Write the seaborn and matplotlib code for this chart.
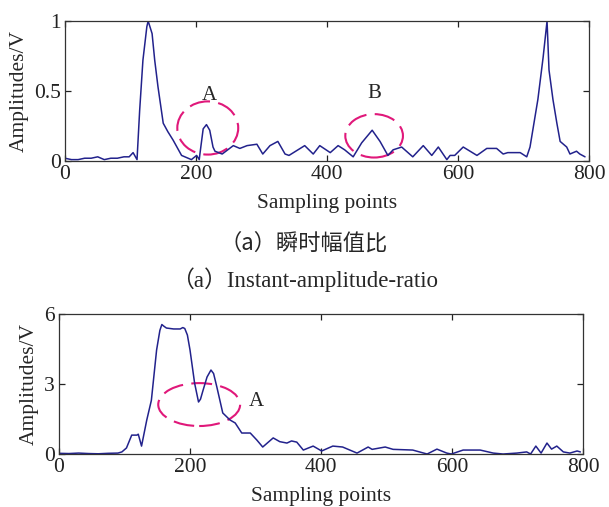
import numpy as np
import pandas as pd
import matplotlib
matplotlib.use("Agg")
import matplotlib.pyplot as plt
from matplotlib.patches import Ellipse
import seaborn as sns

# Top panel: instant amplitude ratio
top_x = [0, 10, 20, 30, 40, 50, 60, 70, 80, 90, 98, 104, 110, 114, 119, 125, 127, 133, 137, 142,
         150, 157, 165, 178, 193, 201, 205, 206, 211, 216, 221, 226, 229, 240, 257, 267, 278,
         293, 302, 313, 325, 336, 342, 366, 379, 389, 405, 417, 427, 440, 453, 469, 481, 493,
         501, 514, 531, 547, 560, 570, 583, 588, 595, 608, 629, 644, 659, 669, 676, 695, 705,
         710, 722, 730, 736, 739, 745, 751, 756, 766, 771, 781, 786, 794]
top_y = [0.02, 0.01, 0.01, 0.02, 0.02, 0.03, 0.01, 0.02, 0.02, 0.03, 0.03, 0.06, 0.01, 0.36,
         0.72, 0.96, 1.0, 0.91, 0.72, 0.53, 0.27, 0.21, 0.15, 0.04, 0.01, 0.04, 0.01, 0.05, 0.23,
         0.26, 0.22, 0.10, 0.07, 0.05, 0.11, 0.09, 0.11, 0.12, 0.05, 0.11, 0.14, 0.05, 0.04, 0.11,
         0.05, 0.11, 0.06, 0.11, 0.08, 0.03, 0.13, 0.22, 0.14, 0.04, 0.08, 0.10, 0.03, 0.11, 0.04,
         0.10, 0.01, 0.04, 0.04, 0.10, 0.04, 0.09, 0.09, 0.05, 0.06, 0.06, 0.03, 0.10, 0.44, 0.74,
         1.0, 0.65, 0.44, 0.27, 0.14, 0.10, 0.05, 0.07, 0.05, 0.03]

# Bottom panel: amplitudes
bot_x = [0, 15, 30, 45, 60, 75, 90, 96, 103, 111, 119, 121, 126, 134, 141, 149, 154, 157, 160,
         164, 175, 185, 189, 192, 196, 200, 207, 213, 216, 220, 226, 232, 236, 241, 250, 261,
         269, 279, 292, 302, 311, 327, 337, 348, 355, 363, 373, 388, 401, 418, 433, 455, 472,
         478, 498, 510, 540, 562, 577, 592, 599, 617, 643, 663, 678, 699, 714, 720, 728, 736,
         745, 752, 760, 770, 780, 791, 796]
bot_y = [0.03, 0.02, 0.04, 0.02, 0.01, 0.03, 0.04, 0.09, 0.26, 0.81, 0.81, 0.85, 0.34, 1.46, 2.3,
         4.46, 5.3, 5.55, 5.48, 5.4, 5.36, 5.36, 5.42, 5.38, 5.1, 4.46, 3.04, 2.23, 2.35, 2.74,
         3.3, 3.6, 3.45, 2.87, 1.76, 1.46, 1.33, 0.9, 0.9, 0.6, 0.3, 0.69, 0.53, 0.47, 0.56, 0.51,
         0.17, 0.34, 0.13, 0.34, 0.3, 0.04, 0.3, 0.2, 0.3, 0.2, 0.17, 0.0, 0.21, 0.04, 0.0, 0.17,
         0.17, 0.04, 0.0, 0.04, 0.09, 0.0, 0.34, 0.04, 0.47, 0.21, 0.34, 0.09, 0.04, 0.13, 0.09]

top_ticks_y = [0, 0.5, 1]
top_ticklabels_y = ["0", "0.5", "1"]
bot_ticks_y = [0, 3, 6]
x_ticks = [0, 200, 400, 600, 800]

caption_cn = "（a）瞬时幅值比"
caption_en = "（a）Instant-amplitude-ratio"

sns.set_style("ticks")
plt.rcParams["font.family"] = ["Liberation Serif", "Noto Sans CJK SC"]

line_color = "#22228c"
mark_color = "#e0187a"

fig = plt.figure(figsize=(6.09, 5.07), dpi=100)
ax1 = fig.add_axes([0.1067, 0.6824, 0.8604, 0.2761])
ax2 = fig.add_axes([0.0969, 0.1045, 0.8604, 0.2761])

sns.lineplot(x=top_x, y=top_y, ax=ax1, color=line_color, linewidth=1.1)
sns.lineplot(x=bot_x, y=bot_y, ax=ax2, color=line_color, linewidth=1.1)

for ax, yt in [(ax1, top_ticks_y), (ax2, bot_ticks_y)]:
    ax.set_xlim(0, 800)
    ax.set_ylim(yt[0], yt[-1])
    ax.set_xticks(x_ticks)
    ax.set_yticks(yt)
    ax.tick_params(direction="in", top=True, right=True, labelsize=15.5,
                   length=4, width=0.9, colors="#222222", pad=3)
    for s in ax.spines.values():
        s.set_linewidth(0.9)
        s.set_color("#333333")
        s.set_visible(True)
    ax.set_xlabel("Sampling points", fontsize=15.5, labelpad=7)
    ax.set_ylabel("Amplitudes/V", fontsize=15.5, labelpad=4)

ax1.set_yticklabels(top_ticklabels_y)

# dashed ellipses and labels
dash = (0, (10, 4))
ax1.add_patch(Ellipse((218, 0.236), 93, 0.38, fill=False, edgecolor=mark_color,
                      linewidth=1.5, linestyle=dash))
ax1.add_patch(Ellipse((472, 0.18), 88, 0.31, fill=False, edgecolor=mark_color,
                      linewidth=1.5, linestyle=dash))
ax1.text(220, 0.47, "A", fontsize=15, ha="center", va="center")
ax1.text(473, 0.48, "B", fontsize=15, ha="center", va="center")

ax2.add_patch(Ellipse((214, 2.12), 125, 1.84, fill=False, edgecolor=mark_color,
                      linewidth=1.5, linestyle=dash))
ax2.text(301, 2.23, "A", fontsize=15, ha="center", va="center")

fig.text(304 / 609, 1 - 243 / 507, caption_cn, fontsize=16, ha="center", va="center",
         family=["Noto Sans CJK SC", "DejaVu Sans"])
fig.text(305 / 609, 1 - 280 / 507, caption_en, fontsize=16.5, ha="center", va="center",
         family=["Liberation Serif", "Noto Sans CJK SC"])

fig.savefig("out.png", dpi=100)
